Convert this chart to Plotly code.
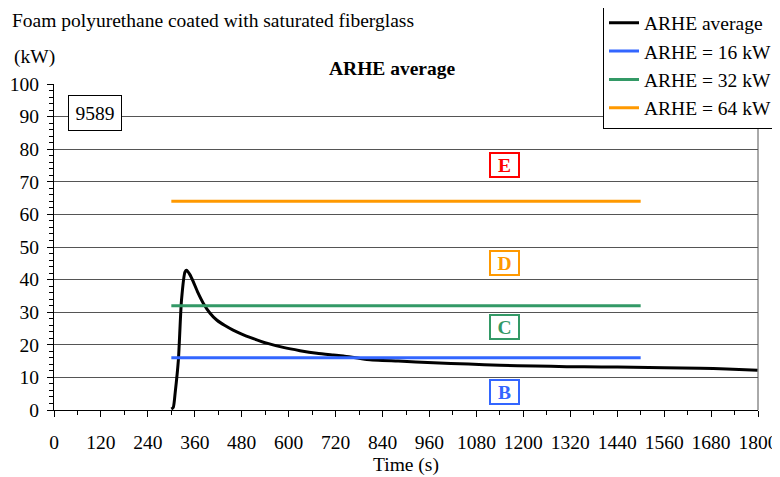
import plotly.graph_objects as go

# ARHE average curve (time s, kW)
time_s = [300, 305, 310, 318, 326, 335, 339, 347, 356, 368, 382, 399, 416, 437, 458, 480, 501, 544, 586, 629, 672, 714, 740, 800,
          880, 970, 1060, 1140, 1230, 1311, 1400, 1481, 1560, 1652, 1720, 1799]
arhe = [0.3, 0.8, 5.5, 15.3, 33.7, 42.4, 42.9, 41.6, 39.4, 36.0, 32.7, 29.7, 27.6, 25.9, 24.5, 23.3, 22.3, 20.5, 19.2, 18.2, 17.4, 16.9, 16.6, 15.5,
        15.0, 14.5, 14.1, 13.7, 13.5, 13.3, 13.2, 13.1, 12.95, 12.8, 12.6, 12.2]

thr_x = [300, 1500]
thr_levels = [16, 32, 64]
thr_names = ["ARHE = 16 kW", "ARHE = 32 kW", "ARHE = 64 kW"]
thr_colors = ["#3366ff", "#339966", "#ff9900"]

zone_labels = ["E", "D", "C", "B"]
zone_y = [75.2, 45.1, 25.5, 5.5]
zone_colors = ["#ff0000", "#ff9900", "#339966", "#3366ff"]
zone_x = 1152

x_ticks = list(range(0, 1801, 120))
y_ticks = list(range(0, 101, 10))

FONT = "Liberation Serif"
FS = 19.5

fig = go.Figure()
fig.add_trace(go.Scatter(x=time_s, y=arhe, mode="lines", name="ARHE average",
                         line=dict(color="black", width=3, shape="spline", smoothing=0.6)))
for lvl, nm, c in zip(thr_levels, thr_names, thr_colors):
    fig.add_trace(go.Scatter(x=thr_x, y=[lvl, lvl], mode="lines", name=nm,
                             line=dict(color=c, width=3)))

for lab, yy, c in zip(zone_labels, zone_y, zone_colors):
    fig.add_annotation(x=zone_x, y=yy, text="<b>" + lab + "</b>", showarrow=False,
                       font=dict(family=FONT, size=FS, color=c), width=25, height=20,
                       bordercolor=c, borderwidth=2, borderpad=1, bgcolor="white")

fig.add_annotation(x=105, y=91.1, text="9589", showarrow=False,
                   font=dict(family=FONT, size=FS, color="black"), width=50, height=32,
                   bordercolor="black", borderwidth=1, borderpad=1, bgcolor="white")

fig.add_annotation(x=-0.06, y=1.083, xref="paper", yref="paper", xanchor="left", yanchor="middle",
                   text="(kW)", showarrow=False, font=dict(family=FONT, size=FS, color="black"))
fig.add_annotation(x=0.4815, y=1.049, xref="paper", yref="paper", xanchor="center", yanchor="middle",
                   text="<b>ARHE average</b>", showarrow=False, font=dict(family=FONT, size=FS, color="black"))
fig.add_annotation(x=-0.062, y=1.196, xref="paper", yref="paper", xanchor="left", yanchor="middle",
                   text="Foam polyurethane coated with saturated fiberglass", showarrow=False,
                   font=dict(family=FONT, size=FS, color="black"))

# page body has an 8px margin: figure is sized/offset to compensate
fig.update_layout(
    width=772, height=469,
    margin=dict(l=46, r=22, t=76, b=67, autoexpand=False),
    paper_bgcolor="white", plot_bgcolor="white",
    font=dict(family=FONT, size=FS, color="black"),
    showlegend=True,
    legend=dict(x=1.027, y=1.25, xanchor="right", yanchor="top",
                bordercolor="black", borderwidth=1, bgcolor="white",
                font=dict(family=FONT, size=FS), tracegroupgap=0, itemwidth=30),
    xaxis=dict(range=[0, 1800], tickvals=x_ticks, ticks="outside", ticklen=6, tickcolor="black",
               showgrid=False, zeroline=False, showline=True, linecolor="black", linewidth=1,
               mirror=False, ticklabelstandoff=9,
               title=dict(text="Time (s)", font=dict(family=FONT, size=FS), standoff=4),
               minor=dict(dtick=60, ticks="outside", ticklen=4, tickcolor="black"),
               tickfont=dict(family=FONT, size=FS)),
    yaxis=dict(range=[0, 100], tickvals=y_ticks, ticks="outside", ticklen=6, tickcolor="black",
               showgrid=True, gridcolor="#555555", gridwidth=1, zeroline=False,
               showline=True, linecolor="black", linewidth=1, ticklabelstandoff=4,
               minor=dict(dtick=2, ticks="outside", ticklen=4, tickcolor="black", showgrid=False),
               tickfont=dict(family=FONT, size=FS)),
)
# right border
fig.add_shape(type="line", xref="paper", yref="paper", x0=1, x1=1, y0=0, y1=1,
              line=dict(color="#555555", width=1))

fig.write_html("out.html")
